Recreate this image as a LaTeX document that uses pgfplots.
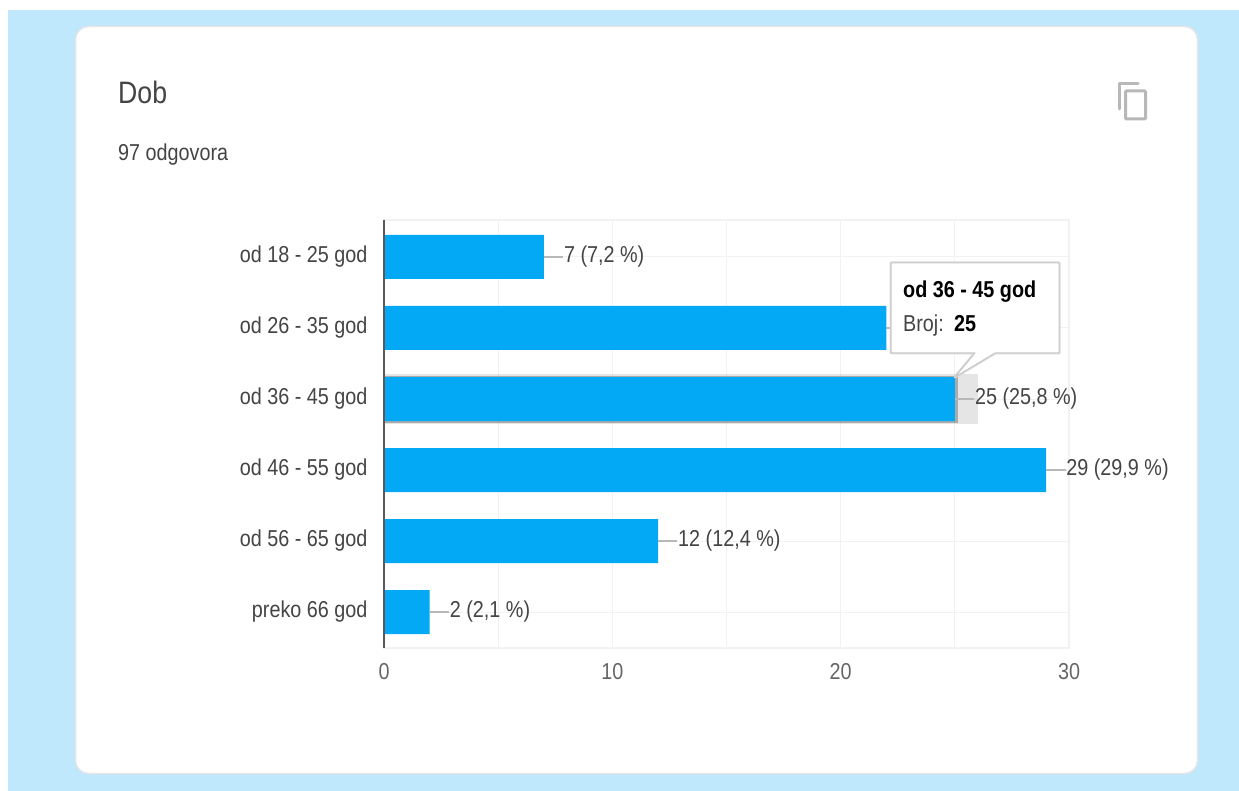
\documentclass[border=0pt]{standalone}
\usepackage{pgfplots}
\pgfplotsset{compat=1.18}
\usepackage{fontspec}
\setmainfont{Liberation Sans}
\newfontfamily\nar[FakeStretch=0.86]{Liberation Sans}
\definecolor{pagebg}{HTML}{BFE8FC}
\definecolor{barc}{HTML}{03A9F4}
\definecolor{gridc}{HTML}{F2F2F2}
\definecolor{txt}{HTML}{444444}
\definecolor{tick}{HTML}{666666}
\newcommand{\fs}[1]{\fontsize{#1}{#1}\selectfont}
\begin{document}
\begin{tikzpicture}[x=1pt,y=-1pt]
\fill[white] (0,0) rectangle (1239,791);
\fill[pagebg] (8,10) rectangle (1239,791);
\draw[draw=black!10,fill=white,line width=1.5pt,rounded corners=13pt] (75.5,26.5) rectangle (1197.5,773.5);
\node[anchor=base west,inner sep=0,text=txt] at (118,104) {\nar\fs{31}Dob};
\node[anchor=base west,inner sep=0,text=txt] at (118,161) {\nar\fs{23}97 odgovora};
\draw[black!28,line width=3pt,line cap=round,line join=round] (1119,109) -- (1119,84) -- (1138,84);
\draw[black!28,line width=3pt,rounded corners=1pt] (1125.5,91) rectangle (1145.5,119);
\begin{axis}[
 at={(384pt,-648pt)},anchor=south west,
 scale only axis,width=685pt,height=428pt,
 xmin=0,xmax=30,ymin=-0.521,ymax=5.507,y dir=reverse,
 xtick={0,10,20,30},minor xtick={5,15,25},
 ytick={0,1,2,3,4,5},
 yticklabels={od 18 - 25 god,od 26 - 35 god,od 36 - 45 god,od 46 - 55 god,od 56 - 65 god,preko 66 god},
 grid=both,
 major grid style={gridc,line width=1pt},minor grid style={gridc,line width=1pt},
 axis line style={gridc,line width=1.5pt},
 tick style={draw=none},
 minor tick length=0pt,major tick length=0pt,
 /pgf/number format/assume math mode=true,
 xticklabel style={font=\nar\fs{23},text=tick,yshift=-12pt},
 yticklabel style={font=\nar\fs{23},text=txt,xshift=-13pt},
 axis on top=false,
 clip=false,
]
\addplot[xbar,bar width=50pt,bar shift=0pt,draw=none,fill=black,fill opacity=0.10] coordinates {(26,2)};
\addplot[xbar,bar width=47pt,bar shift=0pt,draw=none,fill=black,fill opacity=0.25] coordinates {(25.15,2)};
\addplot[
 xbar,bar width=44pt,bar shift=0pt,draw=none,fill=barc,
 point meta=explicit symbolic,
 nodes near coords,
 every node near coord/.append style={font=\nar\fs{23},text=txt,anchor=west,xshift=19pt,inner sep=1pt,yshift=0pt},
 error bars/.cd,x dir=plus,x fixed=0.85,error mark=none,
 error bar style={black!28,line width=2pt},
] coordinates {
 (7,0) [7 (7,2 \%)]
 (22,1) [22 (22,7 \%)]
 (25,2) [25 (25,8 \%)]
 (29,3) [29 (29,9 \%)]
 (12,4) [12 (12,4 \%)]
 (2,5) [2 (2,1 \%)]
};
\draw[black!65,line width=2pt] (axis cs:0,-0.521) -- (axis cs:0,5.507);
\end{axis}
\draw[black!15,line width=3pt,fill=white,line join=round] (891,263) -- (1059,263) -- (1059,353) -- (995,353) -- (955,377) -- (975,353) -- (891,353) -- cycle;
\draw[black!22,line width=1pt,fill=white,line join=round] (891,263) -- (1059,263) -- (1059,353) -- (995,353) -- (955,377) -- (975,353) -- (891,353) -- cycle;
\node[anchor=base west,inner sep=0,text=black] at (903,298) {\nar\fs{23}\bfseries od 36 - 45 god};
\node[anchor=base west,inner sep=0,text=txt] at (903,332) {\nar\fs{23}Broj:};
\node[anchor=base west,inner sep=0,text=black] at (954,332) {\nar\fs{23}\bfseries 25};
\end{tikzpicture}
\end{document}
